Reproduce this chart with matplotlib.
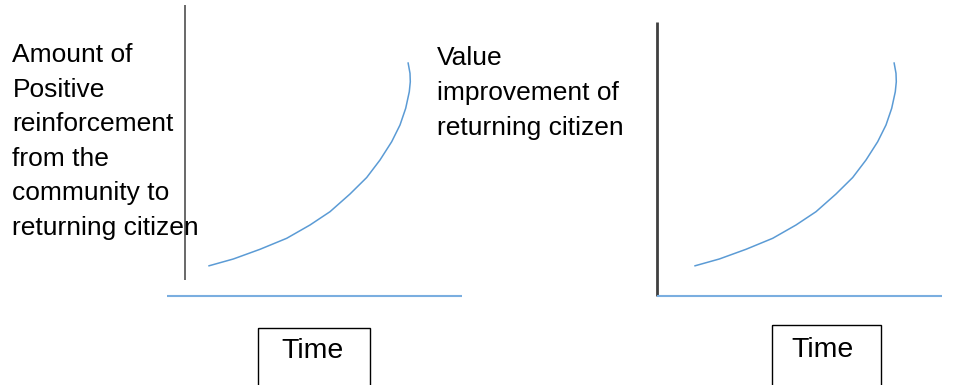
import matplotlib
matplotlib.use("Agg")
import matplotlib.pyplot as plt
from matplotlib.patches import Rectangle

plt.rcParams['font.family'] = ['Liberation Sans', 'DejaVu Sans']

# ---- data: the hand-drawn growth curve (time offset, value rise), pixel units
curve_time = [0, 25.0, 51.7, 78.4, 101.7, 121.7, 141.7, 158.4, 171.7, 183.4,
              191.7, 197.4, 201.0, 202.0, 201.7, 199.7]
curve_value = [0, 7.0, 16.7, 27.7, 41.0, 54.3, 72.0, 88.5, 106.0, 124.3,
               141.0, 157.7, 174.3, 184.3, 192.7, 203.7]

left_label = ["Amount of", "Positive", "reinforcement", "from the",
              "community to", "returning citizen"]
right_label = ["Value", "improvement of", "returning citizen"]
x_label = "Time"

W, H = 964, 385
fig = plt.figure(figsize=(W / 100, H / 100), dpi=100)
ax = fig.add_axes([0, 0, 1, 1])
ax.set_xlim(0, W)
ax.set_ylim(H, 0)
ax.axis('off')

curve_color = '#5b9bd5'
axis_blue = '#7aaee0'
dark = '#404040'

panels = [
    dict(cx=208.3, cy=266, vx=185, vy0=5, vy1=280, vlw=1.1, hy=295.5, hx0=167, hx1=462,
         bx0=258, bx1=370, btop=328, tx=313, ty=358),
    dict(cx=694.3, cy=266, vx=657, vy0=22, vy1=296, vlw=2.0, hy=295.5, hx0=657, hx1=942,
         bx0=772, bx1=881, btop=325, tx=823, ty=357),
]

for p in panels:
    xs = [p['cx'] + t for t in curve_time]
    ys = [p['cy'] - v for v in curve_value]
    ax.plot(xs, ys, color=curve_color, lw=1.1, solid_capstyle='butt',
            solid_joinstyle='round')
    ax.plot([p['vx'], p['vx']], [p['vy0'], p['vy1']], color=dark, lw=p['vlw'],
            solid_capstyle='butt')
    ax.plot([p['hx0'], p['hx1']], [p['hy'], p['hy']], color=axis_blue, lw=1.5,
            solid_capstyle='butt')
    ax.add_patch(Rectangle((p['bx0'], p['btop']), p['bx1'] - p['bx0'], H + 10 - p['btop'],
                           fill=False, edgecolor='black', lw=1.0, clip_on=False))
    ax.text(p['tx'], p['ty'], x_label, fontsize=20.5, ha='center', va='baseline',
            color='black')

fs = 19.0
for i, line in enumerate(left_label):
    ax.text(12.5, 62.5 + i * 34.4, line, fontsize=fs, ha='left', va='baseline', color='black')
for i, line in enumerate(right_label):
    ax.text(437, 65 + i * 35, line, fontsize=fs, ha='left', va='baseline', color='black')

fig.savefig('out.png', dpi=100, facecolor='white')
